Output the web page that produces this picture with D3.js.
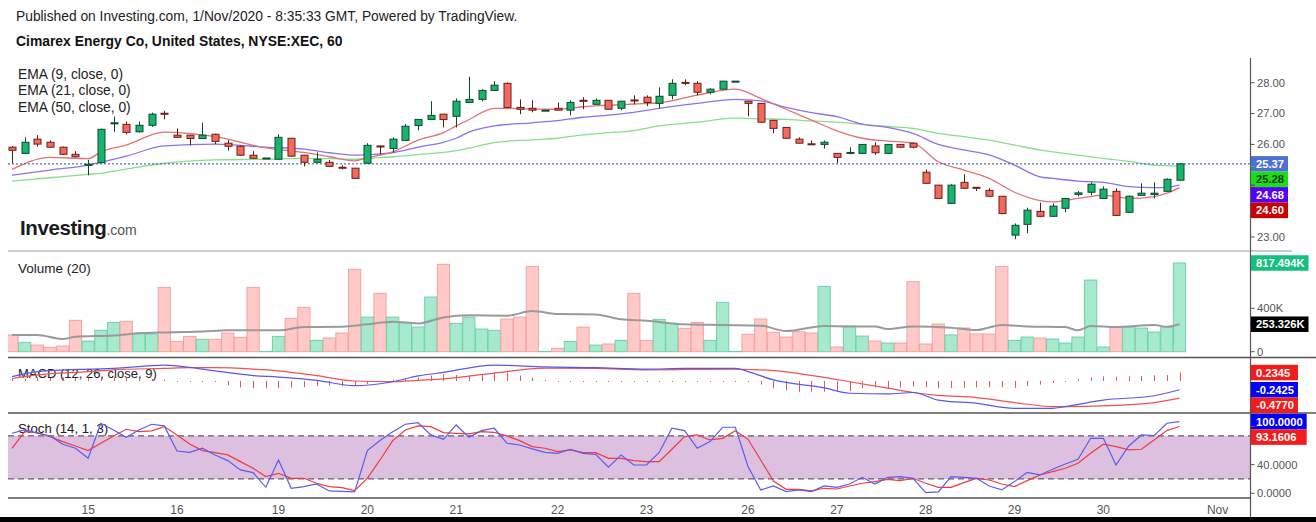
<!DOCTYPE html>
<html>
<head>
<meta charset="utf-8">
<script src="https://cdn.jsdelivr.net/npm/d3@7"></script>
<style>
html, body { margin: 0; padding: 0; background: #fff; }
svg { display: block; font-family: "Liberation Sans", Arial, sans-serif; }
</style>
</head>
<body>
<svg id="chart" width="1316" height="522"></svg>
<script>
// Hourly bars, 14 Oct 2020 (afternoon) to 30 Oct 2020, one entry per bar
var open = [25.91,25.71,26.17,26.07,25.91,25.68,25.32,25.41,26.68,26.65,
    26.41,26.62,27.01,26.30,26.30,26.19,26.33,26.04,25.94,25.65,
    25.55,25.52,26.20,25.65,25.42,25.42,25.26,25.23,25.39,25.95,
    25.87,26.13,26.61,26.81,26.98,26.91,27.36,27.46,27.75,27.98,
    27.20,27.17,27.10,27.17,27.11,27.43,27.30,27.43,27.17,27.44,
    27.53,27.33,27.59,28.01,27.98,27.69,27.79,28.04,27.40,27.33,
    26.78,26.55,26.17,26.02,26.00,25.71,25.71,25.71,25.95,25.71,
    26.00,26.04,25.10,24.68,24.09,24.77,24.61,24.51,24.32,23.06,
    23.41,23.83,23.67,23.93,24.38,24.45,24.25,24.48,23.80,24.35,
    24.38,24.48,24.84];
var high = [25.95,26.23,26.30,26.13,25.93,25.78,25.50,26.51,26.90,26.74,
    26.74,27.03,27.09,26.52,26.31,26.70,26.35,26.14,25.96,25.78,
    25.56,26.33,26.21,25.66,25.74,25.49,25.32,25.24,26.04,25.96,
    26.23,26.66,26.82,27.40,26.99,27.49,28.19,27.79,28.05,28.01,
    27.46,27.43,27.11,27.36,27.43,27.53,27.49,27.44,27.41,27.59,
    27.59,27.85,28.11,28.11,28.05,27.82,28.06,28.05,27.41,27.34,
    26.79,26.56,26.23,26.13,26.13,25.72,25.91,26.01,26.07,26.01,
    26.01,26.07,25.19,24.69,24.71,25.03,24.62,24.58,24.33,23.44,
    23.95,24.11,24.09,24.26,24.49,24.77,24.64,24.58,24.35,24.74,
    24.77,24.90,25.38];
var low = [25.39,25.70,25.93,25.89,25.66,25.58,25.00,25.40,26.41,26.33,
    26.38,26.57,26.81,26.22,25.97,26.18,26.01,25.80,25.63,25.54,
    25.55,25.51,25.60,25.29,25.41,25.28,25.19,24.89,25.38,25.68,
    25.74,26.12,26.46,26.80,26.55,26.55,27.35,27.40,27.74,27.19,
    26.98,27.04,27.10,27.10,26.94,27.14,27.29,27.13,27.11,27.30,
    27.24,27.17,27.46,27.92,27.59,27.62,27.78,28.04,26.91,26.70,
    26.36,26.19,26.03,25.99,25.87,25.39,25.68,25.70,25.66,25.70,
    25.90,25.87,24.73,24.24,24.08,24.57,24.49,24.31,23.74,22.93,
    23.12,23.64,23.66,23.80,24.32,24.35,24.24,23.69,23.79,24.34,
    24.25,24.47,24.83];
var close = [25.81,26.07,26.01,25.91,25.68,25.60,25.36,26.49,26.70,26.39,
    26.62,26.98,26.98,26.23,26.19,26.30,26.10,25.94,25.65,25.55,
    25.56,26.23,25.62,25.42,25.52,25.29,25.23,24.90,25.97,25.93,
    26.17,26.59,26.81,26.94,26.81,27.40,27.46,27.75,27.92,27.20,
    27.14,27.11,27.11,27.11,27.36,27.40,27.43,27.14,27.40,27.42,
    27.36,27.56,27.98,27.98,27.69,27.79,28.05,28.05,27.33,26.72,
    26.52,26.20,26.04,26.00,26.07,25.58,25.74,26.00,25.73,26.00,
    25.91,25.91,24.74,24.25,24.68,24.58,24.58,24.32,23.76,23.38,
    23.87,23.67,24.00,24.25,24.43,24.71,24.55,23.70,24.32,24.42,
    24.42,24.87,25.37];

// Volume in thousands
var volume = [154,86,61,40,52,289,98,197,270,280,
    172,163,593,95,141,114,114,172,132,593,
    3,141,307,409,104,126,172,759,319,538,
    319,270,227,504,805,261,319,209,197,301,
    319,786,3,31,95,227,61,71,104,538,
    104,298,261,215,270,104,455,3,160,301,
    178,135,184,172,602,43,237,144,98,80,
    80,645,71,255,154,218,163,163,786,104,
    135,126,117,80,135,660,43,227,227,218,
    181,227,817.494];

// Volume moving average (20), read at these bars (1-based)
var volMaBars = [1,3,5,6,9,11,13,16,18,20,22,24,27,29,31,33,35,37,40,42,44,47,49,51,
    54,57,60,62,65,67,69,70,72,75,77,79,81,84,85,86,88,91,92,93];
var volMa = [154,154,117,138,150,169,178,187,197,197,197,227,230,252,276,261,316,335,332,375,347,344,298,285,
    252,246,240,190,237,233,233,209,233,221,200,246,233,227,197,237,227,246,230,253.326];

// EMA lines, read at these bars (1-based)
var emaBars = [1,4,7,8,10,13,17,21,24,26,28,29,31,33,35,36,37,39,42,44,46,48,50,52,55,
    58,60,62,64,66,68,70,72,74,76,78,80,82,83,85,87,89,91,92,93];
var ema9 = [25.19,25.58,25.54,25.76,25.98,26.40,26.25,25.89,25.74,25.60,25.47,25.57,25.76,26.14,26.38,26.60,26.80,27.17,27.15,27.14,27.22,27.27,27.31,27.35,27.60,
    27.79,27.49,27.14,26.79,26.44,26.20,26.11,26.04,25.44,25.17,24.90,24.45,24.18,24.14,24.25,24.36,24.25,24.31,24.42,24.60];
var ema21 = [25.00,25.17,25.33,25.42,25.62,25.95,26.01,25.91,25.85,25.73,25.65,25.67,25.73,25.91,26.07,26.20,26.40,26.60,26.70,26.77,26.88,26.95,27.04,27.17,27.33,
    27.46,27.41,27.20,27.03,26.90,26.66,26.55,26.36,26.00,25.82,25.66,25.33,24.95,24.90,24.81,24.77,24.63,24.60,24.61,24.68];
var ema50 = [24.81,24.92,25.03,25.07,25.20,25.39,25.50,25.52,25.55,25.54,25.52,25.55,25.60,25.67,25.74,25.80,25.88,26.06,26.15,26.20,26.31,26.38,26.45,26.60,26.72,
    26.85,26.83,26.81,26.76,26.72,26.65,26.58,26.52,26.36,26.25,26.14,25.98,25.82,25.76,25.65,25.55,25.45,25.33,25.31,25.28];

// MACD (12, 26, close, 9)
var macdBars = [1,3,7,9,13,15,17,20,22,25,28,31,33,35,39,43,47,51,54,58,59,61,65,67,70,72,74,77,80,83,84,87,91,93];
var macdLine = [0.12,0.26,0.33,0.35,0.44,0.38,0.28,0.15,0.11,0.02,-0.13,-0.02,0.14,0.24,0.44,0.39,0.37,0.33,0.35,0.35,0.26,0.03,
    -0.19,-0.34,-0.36,-0.32,-0.53,-0.62,-0.76,-0.76,-0.71,-0.53,-0.41,-0.2425];
var signalLine = [0.07,0.17,0.26,0.31,0.35,0.37,0.37,0.33,0.28,0.15,0.00,-0.02,0.02,0.06,0.22,0.36,0.35,0.31,0.32,0.33,0.32,0.29,
    0.10,-0.02,-0.20,-0.32,-0.40,-0.46,-0.60,-0.71,-0.71,-0.69,-0.60,-0.4770];
var macdHist = [0.05,0.07,0.08,0.09,0.09,0.08,0.09,0.10,0.10,0.08,0.07,0.06,0.04,
    0.02,0.01,0.00,-0.03,
    -0.12,-0.18,-0.20,-0.20,-0.20,-0.18,-0.17,-0.14,-0.13,-0.15,-0.13,-0.08,-0.01,
    0.03,0.08,0.10,0.15,0.19,0.17,0.15,0.19,0.24,0.24,0.15,0.09,0.03,
    0.01,0.01,0.02,0.02,0.01,0.01,0.00,0.00,0.01,0.02,0.01,0.01,0.01,0.01,0.01,-0.01,
    -0.10,-0.20,-0.26,-0.30,-0.30,-0.30,-0.30,-0.28,-0.20,-0.18,-0.20,-0.18,-0.15,-0.17,-0.20,-0.19,-0.19,-0.18,-0.17,-0.17,-0.19,-0.14,-0.10,-0.06,-0.01,
    0.05,0.10,0.13,0.12,0.13,0.14,0.16,0.17,0.2345];

// Stoch (14, 1, 3)
var stochK = [83.7,88.4,84,80,68.4,62.8,48.8,97.7,88.4,78.1,88.4,96.3,94,59,57.2,62.8,53.5,45.6,32.6,28.8,
    8.4,46.5,7,9.3,13,3.3,2.8,1.9,59.5,73.5,86,96.3,98.6,81.4,75.3,95.3,78.1,87.4,90.7,69.8,
    67.4,61.9,57.2,55.8,61.4,55.8,54.4,36.3,53.5,39.5,39.5,57,90.7,87.4,62.8,72.1,92.1,92.1,37.2,4.7,
    10.2,2.3,4.7,2.3,10.2,8.4,13,22.3,13,22.3,23.3,20.9,0.9,1.9,23.3,22.3,20.9,10.2,4.7,16.3,
    29.3,25.6,33.5,40.9,47.4,76.7,76.7,39.5,66,81.4,80.5,97.7,100];
var stochD = [62.8,86,84.7,79,72.1,66,59.5,69.8,80,89.3,86,87,93,81.4,68.8,59.5,56.7,53.5,44.2,34.9,
    23.3,27.9,20.9,20.9,14,9.3,7.9,3.7,20.9,46.5,73.5,88.4,94,93,84.7,83.7,82.8,86,85.1,80,
    73.5,65.1,62.8,58.1,60.5,56.7,56.7,48.8,48.8,45.6,44.2,44.2,61.4,79,81.4,74.4,76.7,87.4,75.3,46.5,
    17.2,5.6,5.6,3.3,7,6,10.2,14,16.3,19.5,17.7,20.9,14,8.4,8.4,14.9,20.9,18.6,13,9.3,
    17.7,25.6,30.2,34.9,41.9,55.8,68.4,65.1,60.5,61.4,74.4,87.4,93.1606];

// Time axis: day labels and the bar (0-based) where each day starts
var tickLabels = ["15","16","19","20","21","22","23","26","27","28","29","30","Nov"];
var tickBars = [6,13,21,28,35,43,50,58,65,72,79,86,95];

var priceTicks = [23,24,25,26,27,28];
var volTicks = [0,400,800];
var stochTicks = [0,40,80];

var svg = d3.select("#chart");

// Scales
var x = d3.scaleLinear().domain([0, 92]).range([12, 1179.5]);
var yPrice = d3.scaleLinear().domain([23, 28]).range([237, 82.7]);
var yVol = d3.scaleLinear().domain([0, 400]).range([351.7, 308.3]);
var yMacd = d3.scaleLinear().domain([-0.5, 0.5]).range([399, 363]);
var yStoch = d3.scaleLinear().domain([0, 100]).range([493.3, 421.6]);

var axisX = 1250.5;

// Clip regions for the four panes
var defs = svg.append("defs");
function addClip(id, y0, y1) {
    defs.append("clipPath").attr("id", id)
        .append("rect").attr("x", 8).attr("y", y0).attr("width", axisX - 8).attr("height", y1 - y0);
}
addClip("clip-main", 56, 251);
addClip("clip-vol", 251, 357);
addClip("clip-macd", 358, 413);
addClip("clip-stoch", 413, 498);

// Header
svg.append("text").attr("x", 16).attr("y", 21).attr("font-size", 13.8).attr("fill", "#222")
    .text("Published on Investing.com, 1/Nov/2020 - 8:35:33 GMT, Powered by TradingView.");
svg.append("text").attr("x", 16).attr("y", 45.7).attr("font-size", 13.9).attr("font-weight", "bold").attr("fill", "#111")
    .text("Cimarex Energy Co, United States, NYSE:XEC, 60");

// Pane titles
["EMA (9, close, 0)", "EMA (21, close, 0)", "EMA (50, close, 0)"].forEach(function(t, i) {
    svg.append("text").attr("x", 18).attr("y", 78.5 + i * 16.6).attr("font-size", 13.8).attr("fill", "#222").text(t);
});
svg.append("text").attr("x", 18).attr("y", 273).attr("font-size", 13.5).attr("fill", "#222").text("Volume (20)");
svg.append("text").attr("x", 18).attr("y", 377.5).attr("font-size", 13).attr("fill", "#222").text("MACD (12, 26, close, 9)");
svg.append("text").attr("x", 18).attr("y", 433).attr("font-size", 13.2).attr("fill", "#222").text("Stoch (14, 1, 3)");

// Investing.com logo
var logo = svg.append("text").attr("x", 20).attr("y", 235);
logo.append("tspan").attr("font-size", 20.5).attr("font-weight", "bold").attr("fill", "#1a1a1a").attr("letter-spacing", -0.4).text("Investing");
logo.append("tspan").attr("font-size", 14).attr("fill", "#555").text(".com");

// Pane separators
svg.append("line").attr("x1", 8).attr("x2", 1292).attr("y1", 251).attr("y2", 251).attr("stroke", "#999").attr("stroke-width", 1);
svg.append("line").attr("x1", 8).attr("x2", 1316).attr("y1", 357.5).attr("y2", 357.5).attr("stroke", "#555").attr("stroke-width", 1.5);
svg.append("line").attr("x1", 8).attr("x2", 1316).attr("y1", 413).attr("y2", 413).attr("stroke", "#555").attr("stroke-width", 1.5);
svg.append("line").attr("x1", 8).attr("x2", axisX).attr("y1", 498).attr("y2", 498).attr("stroke", "#555").attr("stroke-width", 1.5);

// ---------- Main pane ----------
var main = svg.append("g").attr("clip-path", "url(#clip-main)");

function series(bars, vals) {
    return bars.map(function(b, i) { return [b - 1, vals[i]]; });
}
var priceLine = d3.line().x(function(d) { return x(d[0]); }).y(function(d) { return yPrice(d[1]); }).curve(d3.curveMonotoneX);

main.append("path").attr("d", priceLine(series(emaBars, ema50))).attr("fill", "none").attr("stroke", "#86e08a").attr("stroke-width", 1.3);
main.append("path").attr("d", priceLine(series(emaBars, ema21))).attr("fill", "none").attr("stroke", "#8a72ee").attr("stroke-width", 1.3);
main.append("path").attr("d", priceLine(series(emaBars, ema9))).attr("fill", "none").attr("stroke", "#e07272").attr("stroke-width", 1.3);

// last price dotted line
main.append("line").attr("x1", 0).attr("x2", axisX).attr("y1", yPrice(close[92])).attr("y2", yPrice(close[92]))
    .attr("stroke", "#34509e").attr("stroke-width", 1).attr("stroke-dasharray", "2,2");

var bars = d3.range(open.length);
var candle = main.selectAll("g.candle").data(bars).enter().append("g").attr("class", "candle");
candle.append("line")
    .attr("x1", function(i) { return Math.round(x(i)) + 0.5; })
    .attr("x2", function(i) { return Math.round(x(i)) + 0.5; })
    .attr("y1", function(i) { return yPrice(high[i]); })
    .attr("y2", function(i) { return yPrice(low[i]); })
    .attr("stroke", function(i) { return close[i] >= open[i] ? "#0d4a2c" : "#5e1a14"; })
    .attr("stroke-width", 1);
candle.append("rect")
    .attr("x", function(i) { return Math.round(x(i)) - 3; })
    .attr("width", 7)
    .attr("y", function(i) { return yPrice(Math.max(open[i], close[i])); })
    .attr("height", function(i) { return Math.max(1, yPrice(Math.min(open[i], close[i])) - yPrice(Math.max(open[i], close[i]))); })
    .attr("fill", function(i) { return close[i] >= open[i] ? "#16b46c" : "#f26a5e"; })
    .attr("stroke", function(i) { return close[i] >= open[i] ? "#0d4a2c" : "#6e1d16"; })
    .attr("stroke-width", 1);

// ---------- Volume pane ----------
var vol = svg.append("g").attr("clip-path", "url(#clip-vol)");
vol.selectAll("rect").data(bars).enter().append("rect")
    .attr("x", function(i) { return x(i) - 6.1; })
    .attr("width", 12.2)
    .attr("y", function(i) { return yVol(volume[i]); })
    .attr("height", function(i) { return yVol(0) - yVol(volume[i]); })
    .attr("fill", function(i) { return close[i] >= open[i] ? "#a6e9cd" : "#ffc9c7"; })
    .attr("stroke", function(i) { return close[i] >= open[i] ? "#70d2aa" : "#f2a4a1"; })
    .attr("stroke-width", 1);
var volLine = d3.line().x(function(d) { return x(d[0]); }).y(function(d) { return yVol(d[1]); }).curve(d3.curveMonotoneX);
vol.append("path").attr("d", volLine(series(volMaBars, volMa))).attr("fill", "none").attr("stroke", "#9a9a9a").attr("stroke-width", 2);

// ---------- MACD pane ----------
var macd = svg.append("g").attr("clip-path", "url(#clip-macd)");
macd.selectAll("line.hist").data(bars).enter().append("line").attr("class", "hist")
    .attr("x1", function(i) { return Math.round(x(i)) + 0.5; })
    .attr("x2", function(i) { return Math.round(x(i)) + 0.5; })
    .attr("y1", yMacd(0))
    .attr("y2", function(i) {
        var h = yMacd(macdHist[i]) - yMacd(0);
        if (Math.abs(h) < 1) h = 1;
        return yMacd(0) + h;
    })
    .attr("stroke", "#e05a5a").attr("stroke-width", 1);
var macdPath = d3.line().x(function(d) { return x(d[0]); }).y(function(d) { return yMacd(d[1]); }).curve(d3.curveMonotoneX);
macd.append("path").attr("d", macdPath(series(macdBars, signalLine))).attr("fill", "none").attr("stroke", "#ee5252").attr("stroke-width", 1.2);
macd.append("path").attr("d", macdPath(series(macdBars, macdLine))).attr("fill", "none").attr("stroke", "#5858ee").attr("stroke-width", 1.2);

// ---------- Stoch pane ----------
var stoch = svg.append("g").attr("clip-path", "url(#clip-stoch)");
stoch.append("rect").attr("x", 8).attr("width", axisX - 8)
    .attr("y", yStoch(80)).attr("height", yStoch(20) - yStoch(80)).attr("fill", "#ddbfe0");
[80, 20].forEach(function(v) {
    stoch.append("line").attr("x1", 8).attr("x2", axisX).attr("y1", yStoch(v)).attr("y2", yStoch(v))
        .attr("stroke", "#6a5a6a").attr("stroke-width", 1.3).attr("stroke-dasharray", "6,4");
});
var stochPath = d3.line().x(function(d, i) { return x(i); }).y(function(d) { return yStoch(d); });
stoch.append("path").attr("d", stochPath(stochD)).attr("fill", "none").attr("stroke", "#f03c3c").attr("stroke-width", 1.2);
stoch.append("path").attr("d", stochPath(stochK)).attr("fill", "none").attr("stroke", "#5b5bf2").attr("stroke-width", 1.2);

// ---------- Right axis ----------
svg.append("line").attr("x1", axisX).attr("x2", axisX).attr("y1", 58).attr("y2", 517).attr("stroke", "#555").attr("stroke-width", 1.2);

// stack coloured value labels so they don't overlap
function stack(list) {
    list.sort(function(a, b) { return a.y - b.y; });
    var prevBottom = -Infinity;
    list.forEach(function(d) {
        d.top = Math.max(d.y - 7.75, prevBottom);
        prevBottom = d.top + 15.5;
    });
    return list;
}

var priceLabels = stack([
    {y: yPrice(close[92]), bg: "#4e6fd8", fg: "#fff", text: close[92].toFixed(2)},
    {y: yPrice(ema50[ema50.length - 1]), bg: "#16e016", fg: "#123612", text: ema50[ema50.length - 1].toFixed(2)},
    {y: yPrice(ema21[ema21.length - 1]), bg: "#5500ff", fg: "#fff", text: ema21[ema21.length - 1].toFixed(2)},
    {y: yPrice(ema9[ema9.length - 1]), bg: "#cc0000", fg: "#fff", text: ema9[ema9.length - 1].toFixed(2)}
]);
var volLabels = stack([
    {y: yVol(volume[92]), bg: "#14c07c", fg: "#fff", text: volume[92].toFixed(3) + "K"},
    {y: yVol(volMa[volMa.length - 1]), bg: "#000", fg: "#fff", text: volMa[volMa.length - 1].toFixed(3) + "K"}
]);
var macdLabels = stack([
    {y: yMacd(macdHist[92]), bg: "#f21c1c", fg: "#fff", text: macdHist[92].toFixed(4)},
    {y: yMacd(macdLine[macdLine.length - 1]), bg: "#0000ff", fg: "#fff", text: macdLine[macdLine.length - 1].toFixed(4)},
    {y: yMacd(signalLine[signalLine.length - 1]), bg: "#f21c1c", fg: "#fff", text: signalLine[signalLine.length - 1].toFixed(4)}
]);
var stochLabels = stack([
    {y: yStoch(stochK[92]), bg: "#0000ff", fg: "#fff", text: stochK[92].toFixed(4)},
    {y: yStoch(stochD[92]), bg: "#f21c1c", fg: "#fff", text: stochD[92].toFixed(4)}
]);

// axis ticks, skipped where a value label covers them
function axisTicks(ticks, scale, fmt, labels) {
    ticks.forEach(function(v) {
        var yy = scale(v);
        var hidden = labels.some(function(d) { return yy > d.top - 6 && yy < d.top + 21.5; });
        svg.append("line").attr("x1", axisX).attr("x2", axisX + 4).attr("y1", yy).attr("y2", yy).attr("stroke", "#555");
        if (hidden) return;
        svg.append("text").attr("x", 1257).attr("y", yy).attr("dy", "0.35em").attr("font-size", 11.2).attr("fill", "#555").text(fmt(v));
    });
}
axisTicks(priceTicks, yPrice, function(v) { return v.toFixed(2); }, priceLabels);
axisTicks(volTicks, yVol, function(v) { return v === 0 ? "0" : v + "K"; }, volLabels);
axisTicks(stochTicks, yStoch, function(v) { return v.toFixed(4); }, stochLabels);

function drawLabels(list) {
    var g = svg.append("g");
    var rects = [], texts = [], w = 0;
    list.forEach(function(d) {
        rects.push(g.append("rect").attr("x", axisX + 0.5).attr("y", d.top).attr("height", 15.5).attr("fill", d.bg));
        var t = g.append("text").attr("x", 1256).attr("y", d.top + 11.7).attr("font-size", 11.2).attr("font-weight", "bold")
            .attr("fill", d.fg).text(d.text);
        w = Math.max(w, t.node().getComputedTextLength());
        g.append("line").attr("x1", axisX).attr("x2", axisX + 4).attr("y1", d.y).attr("y2", d.y).attr("stroke", d.bg);
    });
    rects.forEach(function(r) { r.attr("width", w + 9); });
}
drawLabels(priceLabels);
drawLabels(volLabels);
drawLabels(macdLabels);
drawLabels(stochLabels);

// ---------- Time axis ----------
svg.selectAll("text.day").data(tickLabels).enter().append("text").attr("class", "day")
    .attr("x", function(d, i) { return x(tickBars[i]); })
    .attr("y", 514)
    .attr("text-anchor", "middle").attr("font-size", 12).attr("fill", "#555")
    .text(function(d) { return d; });

// bottom border strip
svg.append("rect").attr("x", 0).attr("y", 517).attr("width", 1316).attr("height", 5).attr("fill", "#000");
</script>
</body>
</html>
